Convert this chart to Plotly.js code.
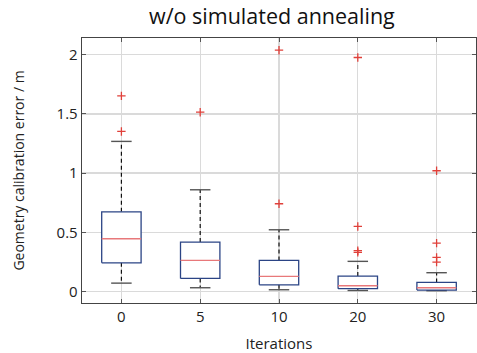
<!DOCTYPE html>
<html><head><meta charset="utf-8">
<script src="https://cdn.plot.ly/plotly-3.0.1.min.js"></script>
<style>body{margin:0;padding:0;background:#fff}#chart{width:477px;height:353px}</style>
</head><body><div id="chart"></div>
<script>
const categories = ["0", "5", "10", "20", "30"];
const lowerWhisker = [0.070, 0.031, 0.014, 0.008, 0.006];
const q1 = [0.242, 0.110, 0.056, 0.023, 0.011];
const median = [0.445, 0.262, 0.127, 0.048, 0.031];
const q3 = [0.673, 0.417, 0.262, 0.130, 0.076];
const upperWhisker = [1.268, 0.859, 0.521, 0.254, 0.158];
const outliers = [
  [1.653, 1.352],
  [1.515],
  [2.039, 0.741],
  [1.977, 0.549, 0.344, 0.330],
  [1.020, 0.408, 0.287, 0.248]
];

const font = "Open Sans, DejaVu Sans, sans-serif";
const hw = 0.25, cw = 0.13;
const traces = [];
categories.forEach((c, i) => {
  traces.push({x:[i,i,null,i,i], y:[q3[i],upperWhisker[i],null,q1[i],lowerWhisker[i]], mode:'lines',
    line:{color:'#111', width:1.2, dash:'4px,3px'}, hoverinfo:'skip', showlegend:false});
  traces.push({x:[i-cw,i+cw,null,i-cw,i+cw], y:[upperWhisker[i],upperWhisker[i],null,lowerWhisker[i],lowerWhisker[i]], mode:'lines',
    line:{color:'#555', width:1.4}, hoverinfo:'skip', showlegend:false});
  traces.push({x:[i-hw,i+hw,i+hw,i-hw,i-hw], y:[q1[i],q1[i],q3[i],q3[i],q1[i]], mode:'lines',
    line:{color:'#2b4485', width:1.3}, fill:'toself', fillcolor:'rgba(255,255,255,1)', hoverinfo:'skip', showlegend:false});
  traces.push({x:[i-hw,i+hw], y:[median[i],median[i]], mode:'lines',
    line:{color:'#e8787a', width:1.3}, hoverinfo:'skip', showlegend:false});
  traces.push({x:outliers[i].map(()=>i), y:outliers[i], mode:'markers',
    marker:{symbol:'cross-thin', size:6, line:{color:'#e0403a', width:1.3}, color:'#e0403a'}, hoverinfo:'skip', showlegend:false});
});

const layout = {
  width:477, height:353,
  margin:{l:82, r:1, t:38, b:50},
  paper_bgcolor:'#fff', plot_bgcolor:'#fff',
  font:{family:font, color:'#222', size:14},
  title:{text:'w/o simulated annealing', font:{family:font, size:21.5, color:'#111'}, x:0.57, xanchor:'center', y:0.952, yanchor:'middle'},
  xaxis:{range:[-0.5,4.5], tickvals:[0,1,2,3,4], ticktext:categories, showgrid:true, gridcolor:'#dadada', gridwidth:1.3,
    zeroline:false, showline:true, linecolor:'#444', linewidth:1.3, mirror:'ticks', ticks:'inside', ticklen:4, tickcolor:'#555',
    tickfont:{size:15}, title:{text:'Iterations', font:{size:15}, standoff:14}},
  yaxis:{range:[-0.098,2.142], tickvals:[0,0.5,1,1.5,2], ticktext:['0','0.5','1','1.5','2'], showgrid:true, gridcolor:'#dadada', gridwidth:1.3,
    zeroline:false, showline:true, linecolor:'#444', linewidth:1.3, mirror:'ticks', ticks:'inside', ticklen:4, tickcolor:'#555',
    tickfont:{size:15}, title:{text:'Geometry calibration error / m', font:{size:14}, standoff:28}}
};
Plotly.newPlot('chart', traces, layout, {staticPlot:true, displayModeBar:false});
</script></body></html>
